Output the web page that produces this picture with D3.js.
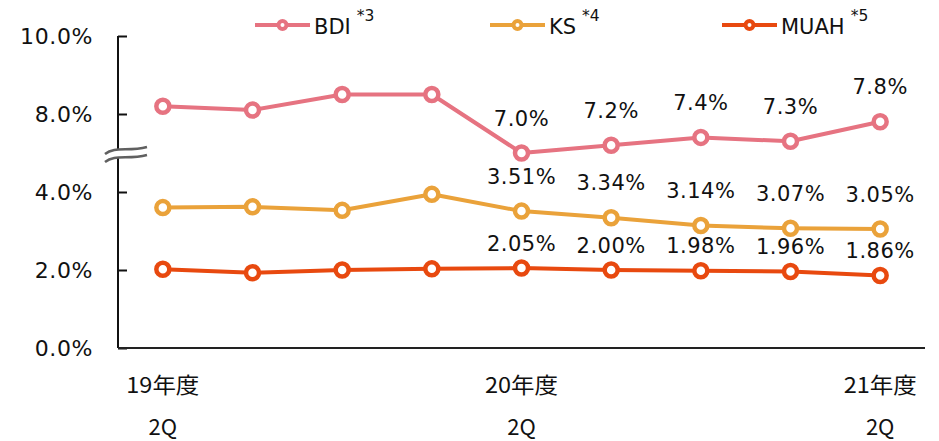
<!DOCTYPE html>
<html>
<head>
<meta charset="utf-8">
<script src="https://cdn.jsdelivr.net/npm/d3@7/dist/d3.min.js"></script>
<style>
  html, body { margin: 0; padding: 0; background: #fff; }
  svg { display: block; }
  text { font-family: "DejaVu Sans", Verdana, sans-serif; fill: #111; }
  .cjk { font-family: "Noto Sans CJK JP", "DejaVu Sans", sans-serif; }
</style>
</head>
<body>
<svg id="chart" width="939" height="441"></svg>
<script>
// Quarters (fiscal year / quarter)
const quarters = ["19年度2Q", "19年度3Q", "19年度4Q", "20年度1Q", "20年度2Q",
                  "20年度3Q", "20年度4Q", "21年度1Q", "21年度2Q"];
// Labeled quarters on the x axis: [index, year line, quarter line]
const xLabels = [[0, "19年度", "2Q"], [4, "20年度", "2Q"], [8, "21年度", "2Q"]];

// Ratios in %
const bdi  = [8.2, 8.1, 8.5, 8.5, 7.0, 7.2, 7.4, 7.3, 7.8];
const ks   = [3.60, 3.62, 3.53, 3.94, 3.51, 3.34, 3.14, 3.07, 3.05];
const muah = [2.02, 1.93, 2.00, 2.03, 2.05, 2.00, 1.98, 1.96, 1.86];

// First index that carries a data label
const labelFrom = 4;

// Y ticks: lower segment and upper segment of the broken axis
const lowerTicks = [0, 2, 4];
const upperTicks = [8, 10];

const series = [
  { name: "BDI",  note: "*3", values: bdi,  color: "#E67381", digits: 1, upper: true,  labelGap: 35, legendX: 255 },
  { name: "KS",   note: "*4", values: ks,   color: "#EAA23A", digits: 2, upper: false, labelGap: 35, legendX: 490 },
  { name: "MUAH", note: "*5", values: muah, color: "#E8490F", digits: 2, upper: false, labelGap: 25, legendX: 722 }
];

const svg = d3.select("#chart");

const axisX = 118, axisRight = 925;
const x = d3.scalePoint().domain(quarters).range([axisX, axisRight]).padding(0.5);
const yLow = d3.scaleLinear().domain([0, 4]).range([348, 192]);
const yUp  = d3.scaleLinear().domain([8, 10]).range([114, 36]);
const breakY = (yLow(4) + yUp(8)) / 2;

// Y axes (ticks pointing into the plot, labels on the left)
function drawAxis(scale, ticks) {
  const g = svg.append("g")
    .attr("transform", `translate(${axisX},0)`)
    .call(d3.axisLeft(scale).tickValues(ticks).tickSizeInner(-9).tickSizeOuter(0)
      .tickPadding(25).tickFormat(d => d.toFixed(1) + "%"));
  g.select(".domain").remove();
  g.selectAll(".tick line").attr("stroke", "#111").attr("stroke-width", 2);
  g.selectAll(".tick text").attr("font-size", 22).attr("font-family", null)
    .attr("fill", null).style("letter-spacing", "0.6px");
}
drawAxis(yLow, lowerTicks);
drawAxis(yUp, upperTicks);

// Continuous vertical axis line
svg.append("line")
  .attr("x1", axisX).attr("x2", axisX)
  .attr("y1", yUp(10)).attr("y2", yLow(0))
  .attr("stroke", "#111").attr("stroke-width", 2);

// X axis baseline
svg.append("line")
  .attr("x1", axisX).attr("x2", axisRight)
  .attr("y1", yLow(0)).attr("y2", yLow(0))
  .attr("stroke", "#222").attr("stroke-width", 2);

// Axis break marker
const bx = axisX, by = breakY;
const upperWave = `M${bx - 13},${by + 1} C${bx - 3},${by - 7} ${bx + 10},${by - 1} ${bx + 29},${by - 6}`;
const lowerWave = `M${bx - 13},${by + 9} C${bx - 3},${by + 1} ${bx + 10},${by + 7} ${bx + 29},${by + 2}`;
svg.append("path")
  .attr("d", `${upperWave} L${bx + 29},${by + 2} C${bx + 10},${by + 7} ${bx - 3},${by + 1} ${bx - 13},${by + 9} Z`)
  .attr("fill", "#fff").attr("stroke", "none");
[upperWave, lowerWave].forEach(d =>
  svg.append("path").attr("d", d).attr("fill", "none")
    .attr("stroke", "#606060").attr("stroke-width", 2.5));

// X labels
const xl = svg.append("g").attr("class", "cjk");
xLabels.forEach(([i, yr, q]) => {
  const cx = x(quarters[i]);
  xl.append("text").attr("class", "cjk").attr("x", cx).attr("y", 385).attr("dy", "0.35em")
    .attr("text-anchor", "middle").attr("font-size", 22)
    .attr("textLength", 73).attr("lengthAdjust", "spacingAndGlyphs").text(yr);
  xl.append("text").attr("class", "cjk").attr("x", cx).attr("y", 427).attr("dy", "0.35em")
    .attr("text-anchor", "middle").attr("font-size", 22).text(q);
});

// Series lines, markers and labels
series.forEach(s => {
  const ys = s.upper ? yUp : yLow;
  const g = svg.append("g");
  g.append("path")
    .datum(s.values)
    .attr("d", d3.line().x((d, i) => x(quarters[i])).y(d => ys(d)))
    .attr("fill", "none").attr("stroke", s.color).attr("stroke-width", 4)
    .attr("stroke-linejoin", "round");
  g.selectAll("circle").data(s.values).join("circle")
    .attr("cx", (d, i) => x(quarters[i])).attr("cy", d => ys(d))
    .attr("r", 6.5).attr("fill", "#fff").attr("stroke", s.color).attr("stroke-width", 4.5);
  g.selectAll("text").data(s.values.map((v, i) => ({ v, i })).filter(d => d.i >= labelFrom))
    .join("text")
    .attr("x", d => x(quarters[d.i])).attr("y", d => ys(d.v) - s.labelGap).attr("dy", "0.36em")
    .attr("text-anchor", "middle").attr("font-size", 21).style("letter-spacing", "0.5px")
    .text(d => d.v.toFixed(s.digits) + "%");

  // Legend entry
  const lg = svg.append("g");
  const lx = s.legendX, ly = 25;
  lg.append("line").attr("x1", lx).attr("x2", lx + 55).attr("y1", ly).attr("y2", ly)
    .attr("stroke", s.color).attr("stroke-width", 4);
  lg.append("circle").attr("cx", lx + 27.5).attr("cy", ly).attr("r", 4)
    .attr("fill", "#fff").attr("stroke", s.color).attr("stroke-width", 4);
  const t = lg.append("text").attr("x", lx + 59).attr("y", 34).attr("font-size", 21).text(s.name);
  const w = t.node().getComputedTextLength();
  lg.append("text").attr("x", lx + 59 + w + 6).attr("y", 21).attr("font-size", 15.5).text(s.note);
});
</script>
</body>
</html>
